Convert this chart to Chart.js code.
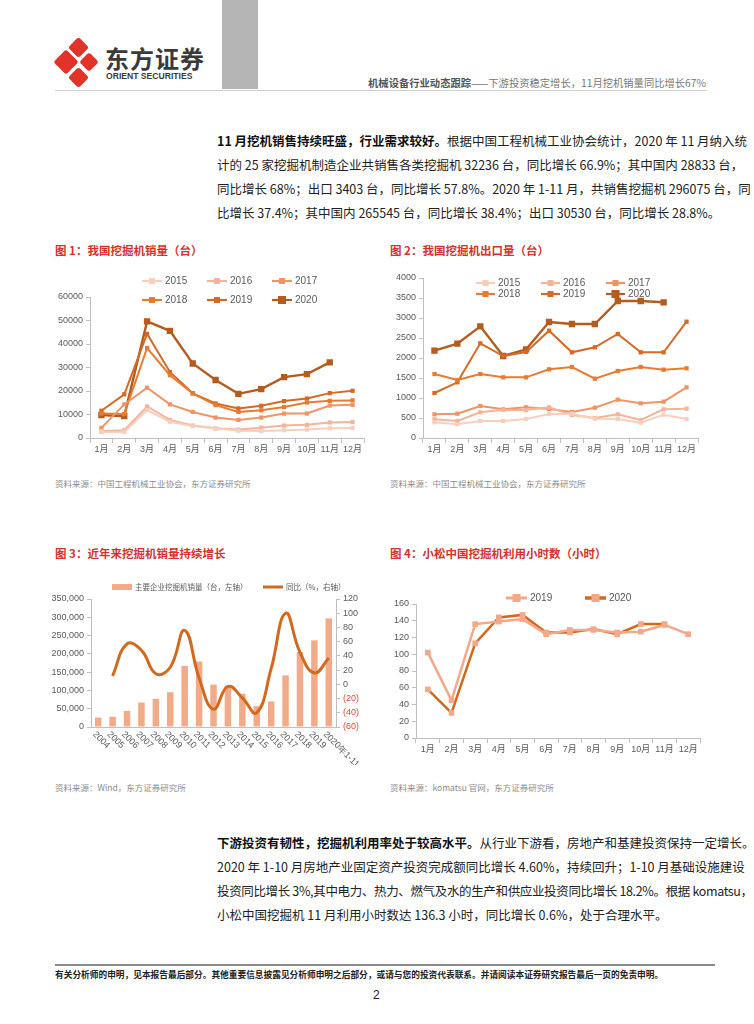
<!DOCTYPE html>
<html>
<head>
<meta charset="utf-8">
<script src="https://cdn.jsdelivr.net/npm/chart.js@4.4.0/dist/chart.umd.min.js"></script>
<style>
  body { margin: 0; background: #fff; font-family: "Liberation Sans", "Noto Sans CJK SC", sans-serif; }
  #page { position: relative; width: 754px; height: 1024px; overflow: hidden; }
  .abs { position: absolute; white-space: nowrap; }
  .para div { font-size: 12.5px; color: #222; height: 24px; line-height: 24px; width: 493px; text-align: justify; text-align-last: justify; font-family: "Noto Sans CJK SC", sans-serif; }
  .para div.last { text-align-last: left; }
  .ttl { font-size: 11.5px; font-weight: bold; color: #d7312b; font-family: "Noto Sans CJK SC", sans-serif; }
  .src { font-size: 8.5px; color: #8c8c8c; font-family: "Noto Sans CJK SC", sans-serif; }
  canvas { position: absolute; }
</style>
</head>
<body>
<div id="page">
  <!-- header -->
  <svg class="abs" style="left:54px;top:38px" width="48" height="50" viewBox="0 0 48 50">
    <g fill="#e2332b">
      <rect x="17" y="2" width="15" height="15" rx="3" transform="rotate(45 24.5 9.5)"/>
      <rect x="3" y="15" width="18" height="18" rx="3" transform="rotate(45 12 24)"/>
      <rect x="28" y="17" width="14" height="14" rx="3" transform="rotate(45 35 24)"/>
      <rect x="17" y="32" width="15" height="15" rx="3" transform="rotate(45 24.5 39.5)"/>
    </g>
  </svg>
  <div class="abs" style="left:105px;top:40px;font-size:24px;font-weight:bold;color:#3a3a3a;letter-spacing:1px;font-family:'Noto Sans CJK SC'">东方证券</div>
  <div class="abs" style="left:106px;top:71px;font-size:8.6px;font-weight:bold;color:#3a3a3a">ORIENT SECURITIES</div>
  <div class="abs" style="left:222px;top:0;width:36px;height:89px;background:#b5b5b5"></div>
  <div class="abs" style="right:48px;top:75px;font-size:10.3px;color:#777;font-family:'Noto Sans CJK SC'"><span style="color:#555;font-weight:bold">机械设备行业动态跟踪</span>——下游投资稳定增长，11月挖机销量同比增长67%</div>
  <div class="abs" style="left:55px;top:90px;width:652px;height:1px;background:#cfcfcf"></div>

  <!-- paragraph 1 -->
  <div class="abs para" style="left:217px;top:129px">
    <div><b style="color:#111">11 月挖机销售持续旺盛，行业需求较好。</b>根据中国工程机械工业协会统计，2020 年 11 月纳入统</div>
    <div>计的 25 家挖掘机制造企业共销售各类挖掘机 32236 台，同比增长 66.9%；其中国内 28833 台，</div>
    <div>同比增长 68%；出口 3403 台，同比增长 57.8%。2020 年 1-11 月，共销售挖掘机 296075 台，同</div>
    <div class="last">比增长 37.4%；其中国内 265545 台，同比增长 38.4%；出口 30530 台，同比增长 28.8%。</div>
  </div>

  <div class="abs ttl" style="left:55px;top:242px">图 1：我国挖掘机销量（台）</div>
  <div class="abs ttl" style="left:390px;top:242px">图 2：我国挖掘机出口量（台）</div>
  <canvas id="c1" width="320" height="200" style="left:50px;top:265px"></canvas>
  <canvas id="c2" width="340" height="200" style="left:385px;top:265px"></canvas>
  <div class="abs src" style="left:55px;top:477px">资料来源：中国工程机械工业协会，东方证券研究所</div>
  <div class="abs src" style="left:390px;top:477px">资料来源：中国工程机械工业协会，东方证券研究所</div>

  <div class="abs ttl" style="left:55px;top:545px">图 3：近年来挖掘机销量持续增长</div>
  <div class="abs ttl" style="left:390px;top:545px">图 4：小松中国挖掘机利用小时数（小时）</div>
  <canvas id="c3" width="320" height="190" style="left:50px;top:575px"></canvas>
  <canvas id="c4" width="340" height="190" style="left:385px;top:575px"></canvas>
  <div class="abs src" style="left:55px;top:781px">资料来源：Wind，东方证券研究所</div>
  <div class="abs src" style="left:390px;top:781px">资料来源：komatsu 官网，东方证券研究所</div>

  <!-- paragraph 2 -->
  <div class="abs para" style="left:217px;top:831px">
    <div><b style="color:#111">下游投资有韧性，挖掘机利用率处于较高水平。</b>从行业下游看，房地产和基建投资保持一定增长。</div>
    <div>2020 年 1-10 月房地产业固定资产投资完成额同比增长 4.60%，持续回升；1-10 月基础设施建设</div>
    <div style="letter-spacing:-0.35px">投资同比增长 3%,其中电力、热力、燃气及水的生产和供应业投资同比增长 18.2%。根据 komatsu，</div>
    <div class="last">小松中国挖掘机 11 月利用小时数达 136.3 小时，同比增长 0.6%，处于合理水平。</div>
  </div>

  <!-- footer -->
  <div class="abs" style="left:55px;top:964px;width:660px;height:2px;background:#8a8a8a"></div>
  <div class="abs" style="left:55px;top:968px;font-size:8.7px;font-weight:bold;color:#222;font-family:'Noto Sans CJK SC'">有关分析师的申明，见本报告最后部分。其他重要信息披露见分析师申明之后部分，或请与您的投资代表联系。并请阅读本证券研究报告最后一页的免责申明。</div>
  <div class="abs" style="left:373px;top:988px;font-size:12px;color:#222">2</div>
</div>

<script>
// ---- data ----
const months = ['1月', '2月', '3月', '4月', '5月', '6月', '7月', '8月', '9月', '10月', '11月', '12月'];

// fig 1: domestic excavator sales (units)
const sales2015 = [2600, 2600, 11900, 6900, 5100, 4000, 3100, 3000, 3300, 3600, 4100, 4300];
const sales2016 = [2900, 3300, 13400, 7700, 5300, 4100, 3600, 4400, 5300, 5600, 6600, 6800];
const sales2017 = [4300, 14300, 21400, 14300, 11100, 8700, 7700, 8700, 10400, 10400, 13800, 14100];
const sales2018 = [10400, 10200, 38300, 26700, 19000, 14000, 11100, 11800, 13200, 15100, 15800, 16000];
const sales2019 = [11600, 18600, 44300, 28100, 19000, 14700, 12600, 13700, 15700, 16800, 19100, 20100];
const sales2020 = [9800, 9300, 49600, 45600, 31700, 24700, 18800, 20800, 25900, 27200, 32200, null];

// fig 2: exports (units)
const exp2015 = [392, 342, 425, 425, 475, 600, 608, 483, 475, 383, 583, 475];
const exp2016 = [467, 425, 642, 708, 700, 767, 575, 500, 592, 450, 717, 733];
const exp2017 = [592, 608, 800, 717, 767, 725, 650, 758, 958, 867, 908, 1267];
const exp2018 = [1600, 1450, 1600, 1517, 1517, 1717, 1775, 1483, 1675, 1775, 1708, 1742];
const exp2019 = [1125, 1392, 2367, 2050, 2150, 2683, 2142, 2267, 2600, 2142, 2142, 2908];
const exp2020 = [2183, 2358, 2792, 2050, 2217, 2900, 2850, 2850, 3425, 3425, 3392, null];

// fig 3: yearly sales + yoy
const years = ['2004', '2005', '2006', '2007', '2008', '2009', '2010', '2011', '2012', '2013', '2014', '2015', '2016', '2017', '2018', '2019', '2020年1-11月'];
const yearSales = [25600, 28000, 44000, 67000, 77000, 95000, 167000, 179000, 116000, 113000, 91000, 57000, 70000, 141000, 205000, 237000, 297000];
const yearYoy = [null, 12, 57, 48, 15, 24, 76, 9, -35, -3, -19, -40, 22, 100, 45, 16, 37];

// fig 4: komatsu utilisation hours
const hours2019 = [102, 45, 136, 139, 142, 124, 129, 129, 126, 127, 135, 124];
const hours2020 = [58, 30, 113, 144, 147, 126, 126, 130, 124, 136, 136, null];

const yearColors = ['#f8cfbf', '#f4b49a', '#ef9467', '#e87b30', '#d46a26', '#b65b1e'];

Chart.defaults.font.family = '"Liberation Sans", "Noto Sans CJK SC", sans-serif';
Chart.defaults.font.size = 9;
Chart.defaults.color = '#595959';

// legend drawn at fixed spots so it can sit over the plot like the original
const fixedLegend = {
  id: 'fixedLegend',
  afterDraw(chart, args, opts) {
    if (!opts.items) return;
    const ctx = chart.ctx;
    ctx.save();
    ctx.font = opts.font;
    ctx.textBaseline = 'middle';
    opts.items.forEach(it => {
      const ds = chart.data.datasets[it.index];
      const w = opts.lineW;
      ctx.fillStyle = ds.borderColor;
      if (it.box) {
        ctx.fillStyle = ds.backgroundColor;
        ctx.fillRect(it.x, it.y - 3, w, 6);
      } else {
        ctx.strokeStyle = ds.borderColor;
        ctx.lineWidth = it.lw || 2;
        ctx.beginPath();
        ctx.moveTo(it.x, it.y);
        ctx.lineTo(it.x + w, it.y);
        ctx.stroke();
        if (it.marker) {
          const m = it.marker;
          ctx.fillStyle = ds.pointBackgroundColor || ds.borderColor;
          ctx.fillRect(it.x + w / 2 - m / 2, it.y - m / 2, m, m);
        }
      }
      ctx.fillStyle = opts.color;
      ctx.fillText(ds.label, it.x + w + 3, it.y);
    });
    ctx.restore();
  }
};

// slanted year labels (clockwise) for fig 3
const slantLabels = {
  id: 'slantLabels',
  afterDraw(chart, args, opts) {
    if (!opts.on) return;
    const xs = chart.scales.x;
    const ctx = chart.ctx;
    ctx.save();
    ctx.font = '9px "Liberation Sans"';
    ctx.fillStyle = '#595959';
    ctx.textAlign = 'left';
    ctx.textBaseline = 'middle';
    chart.data.labels.forEach((lab, i) => {
      const x = xs.getPixelForTick(i);
      ctx.save();
      ctx.translate(x - 4, xs.top + 6);
      ctx.rotate(Math.PI / 4);
      ctx.fillText(lab, 0, 0);
      ctx.restore();
    });
    ctx.restore();
  }
};
Chart.register(fixedLegend, slantLabels);

function lineSet(label, data, color, big) {
  return {
    label: label, data: data, borderColor: color, backgroundColor: color,
    borderWidth: big ? 2.4 : 2, pointStyle: 'rect', pointRadius: big ? 4.5 : 3,
    pointBorderWidth: 0, pointBackgroundColor: color, tension: 0, spanGaps: false
  };
}

function xAxis(h) {
  return {
    offset: true,
    grid: { display: true, drawOnChartArea: false, offset: true, tickLength: 5, color: '#bfbfbf' },
    border: { display: true, color: '#bfbfbf' },
    ticks: { padding: 1, maxRotation: 0, autoSkip: false },
    afterFit: s => { s.height = h; }
  };
}

function yAxis(w, min, max, step, extra) {
  return Object.assign({
    min: min, max: max,
    grid: { display: true, drawOnChartArea: false, tickLength: 4, color: '#bfbfbf' },
    border: { display: true, color: '#bfbfbf' },
    ticks: { stepSize: step, padding: 3, callback: v => String(v) },
    afterFit: s => { s.width = w; }
  }, extra || {});
}

function legendItems(x0, colW, y1, y2) {
  const out = [];
  for (let i = 0; i < 6; i++) {
    out.push({ index: i, x: x0 + (i % 3) * colW, y: i < 3 ? y1 : y2, marker: i === 5 ? 8 : 6, lw: 2.2 });
  }
  return out;
}

const base = { responsive: false, animation: false, devicePixelRatio: 1 };

// fig 1
new Chart(document.getElementById('c1'), {
  type: 'line',
  data: {
    labels: months,
    datasets: [
      lineSet('2015', sales2015, yearColors[0]),
      lineSet('2016', sales2016, yearColors[1]),
      lineSet('2017', sales2017, yearColors[2]),
      lineSet('2018', sales2018, yearColors[3]),
      lineSet('2019', sales2019, yearColors[4]),
      lineSet('2020', sales2020, yearColors[5], true)
    ]
  },
  options: Object.assign({}, base, {
    layout: { padding: { top: 32, right: 6, left: 0, bottom: 0 } },
    scales: { x: xAxis(27), y: yAxis(40, 0, 60000, 10000) },
    plugins: {
      legend: { display: false }, tooltip: { enabled: false },
      fixedLegend: { font: '10px "Liberation Sans"', color: '#595959', lineW: 20, items: legendItems(92, 65, 16, 35) }
    }
  })
});

// fig 2
new Chart(document.getElementById('c2'), {
  type: 'line',
  data: {
    labels: months,
    datasets: [
      lineSet('2015', exp2015, yearColors[0]),
      lineSet('2016', exp2016, yearColors[1]),
      lineSet('2017', exp2017, yearColors[2]),
      lineSet('2018', exp2018, yearColors[3]),
      lineSet('2019', exp2019, yearColors[4]),
      lineSet('2020', exp2020, yearColors[5], true)
    ]
  },
  options: Object.assign({}, base, {
    layout: { padding: { top: 13, right: 27, left: 0, bottom: 0 } },
    scales: { x: xAxis(27), y: yAxis(38, 0, 4000, 500) },
    plugins: {
      legend: { display: false }, tooltip: { enabled: false },
      fixedLegend: { font: '10px "Liberation Sans"', color: '#595959', lineW: 19, items: legendItems(91, 65, 18, 29) }
    }
  })
});

// fig 3
new Chart(document.getElementById('c3'), {
  data: {
    labels: years,
    datasets: [
      { type: 'line', label: '同比（%，右轴）', data: yearYoy, yAxisID: 'y1', borderColor: '#d2691e', backgroundColor: '#d2691e',
        borderWidth: 3, pointRadius: 0, tension: 0.45, order: 0 },
      { type: 'bar', label: '主要企业挖掘机销量（台，左轴）', data: yearSales, yAxisID: 'y', backgroundColor: '#f2aa88', borderColor: '#f2aa88',
        categoryPercentage: 1, barPercentage: 0.45, order: 1 }
    ]
  },
  options: Object.assign({}, base, {
    layout: { padding: { top: 24, right: 0, left: 0, bottom: 0 } },
    scales: {
      x: {
        offset: true,
        grid: { display: false },
        border: { display: true, color: '#bfbfbf' },
        ticks: { display: false },
        afterFit: s => { s.height = 38; }
      },
      y: yAxis(41, 0, 350000, 50000, {
        ticks: { stepSize: 50000, padding: 3, callback: v => v.toLocaleString('en-US') }
      }),
      y1: yAxis(34, -60, 120, 20, {
        position: 'right',
        ticks: {
          stepSize: 20, padding: 3,
          callback: v => v < 0 ? '(' + Math.abs(v) + ')' : v,
          color: c => c.tick && c.tick.value < 0 ? '#e0483a' : '#595959'
        }
      })
    },
    plugins: {
      legend: { display: false }, tooltip: { enabled: false },
      slantLabels: { on: true },
      fixedLegend: {
        font: '7.5px "Noto Sans CJK SC"', color: '#595959', lineW: 20,
        items: [{ index: 1, x: 62, y: 12, box: true }, { index: 0, x: 213, y: 12, lw: 3 }]
      }
    }
  })
});

// fig 4
new Chart(document.getElementById('c4'), {
  type: 'line',
  data: {
    labels: months,
    datasets: [
      Object.assign(lineSet('2019', hours2019, '#f2a98a'), { borderWidth: 2.5, pointRadius: 4 }),
      Object.assign(lineSet('2020', hours2020, '#d2691e'), { borderWidth: 2.5, pointRadius: 4, pointBackgroundColor: '#f2a98a' })
    ]
  },
  options: Object.assign({}, base, {
    layout: { padding: { top: 29, right: 25, left: 0, bottom: 0 } },
    scales: { x: xAxis(27), y: yAxis(31, 0, 160, 20) },
    plugins: {
      legend: { display: false }, tooltip: { enabled: false },
      fixedLegend: {
        font: '10px "Liberation Sans"', color: '#595959', lineW: 21,
        items: [{ index: 0, x: 121, y: 23, marker: 8, lw: 3 }, { index: 1, x: 200, y: 23, marker: 8, lw: 3.5 }]
      }
    }
  })
});
</script>
</body>
</html>
